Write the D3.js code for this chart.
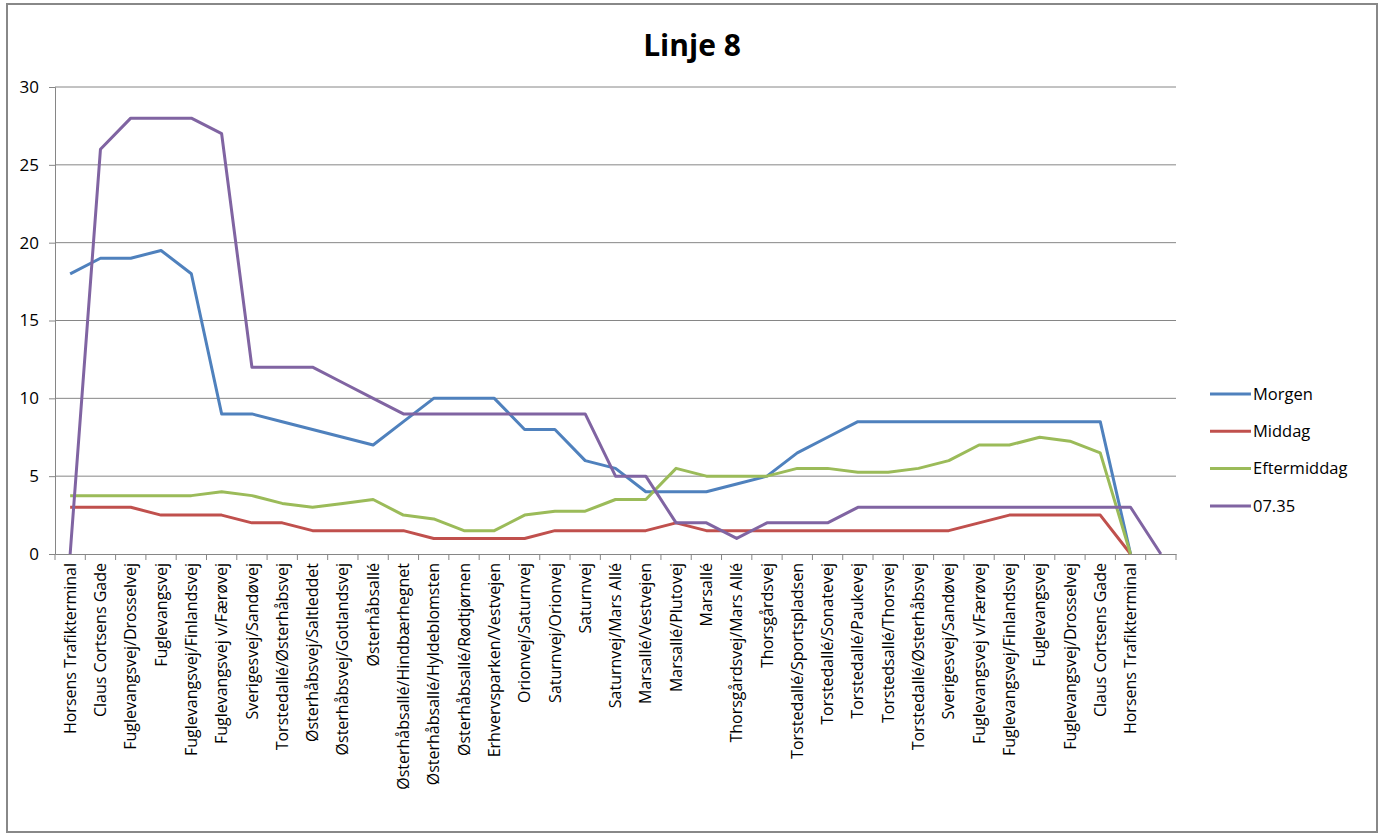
<!DOCTYPE html>
<html>
<head>
<meta charset="utf-8">
<script src="https://cdn.jsdelivr.net/npm/d3@7"></script>
<style>
  html, body { margin: 0; padding: 0; background: #fff; }
  svg { display: block; font-family: "Open Sans", Lato, sans-serif; }
</style>
</head>
<body>
<svg id="chart" width="1386" height="838"></svg>
<script>
const categories = [
  "Horsens Trafikterminal", "Claus Cortsens Gade", "Fuglevangsvej/Drosselvej", "Fuglevangsvej",
  "Fuglevangsvej/Finlandsvej", "Fuglevangsvej v/Færøvej", "Sverigesvej/Sandøvej", "Torstedallé/Østerhåbsvej",
  "Østerhåbsvej/Saltleddet", "Østerhåbsvej/Gotlandsvej", "Østerhåbsallé", "Østerhåbsallé/Hindbærhegnet",
  "Østerhåbsallé/Hyldeblomsten", "Østerhåbsallé/Rødtjørnen", "Erhvervsparken/Vestvejen", "Orionvej/Saturnvej",
  "Saturnvej/Orionvej", "Saturnvej", "Saturnvej/Mars Allé", "Marsallé/Vestvejen",
  "Marsallé/Plutovej", "Marsallé", "Thorsgårdsvej/Mars Allé", "Thorsgårdsvej",
  "Torstedallé/Sportspladsen", "Torstedallé/Sonatevej", "Torstedallé/Paukevej", "Torstedsallé/Thorsvej",
  "Torstedallé/Østerhåbsvej", "Sverigesvej/Sandøvej", "Fuglevangsvej v/Færøvej", "Fuglevangsvej/Finlandsvej",
  "Fuglevangsvej", "Fuglevangsvej/Drosselvej", "Claus Cortsens Gade", "Horsens Trafikterminal", ""
];
const morgen = [18, 19, 19, 19.5, 18, 9, 9, 8.5, 8, 7.5, 7, 8.5, 10, 10, 10, 8, 8, 6, 5.5, 4, 4, 4, 4.5, 5, 6.5, 7.5, 8.5, 8.5, 8.5, 8.5, 8.5, 8.5, 8.5, 8.5, 8.5, 0, null];
const middag = [3, 3, 3, 2.5, 2.5, 2.5, 2, 2, 1.5, 1.5, 1.5, 1.5, 1, 1, 1, 1, 1.5, 1.5, 1.5, 1.5, 2, 1.5, 1.5, 1.5, 1.5, 1.5, 1.5, 1.5, 1.5, 1.5, 2, 2.5, 2.5, 2.5, 2.5, 0, null];
const eftermiddag = [3.75, 3.75, 3.75, 3.75, 3.75, 4, 3.75, 3.25, 3, 3.25, 3.5, 2.5, 2.25, 1.5, 1.5, 2.5, 2.75, 2.75, 3.5, 3.5, 5.5, 5, 5, 5, 5.5, 5.5, 5.25, 5.25, 5.5, 6, 7, 7, 7.5, 7.25, 6.5, 0, null];
const t0735 = [0, 26, 28, 28, 28, 27, 12, 12, 12, 11, 10, 9, 9, 9, 9, 9, 9, 9, 5, 5, 2, 2, 1, 2, 2, 2, 3, 3, 3, 3, 3, 3, 3, 3, 3, 3, 0];
const seriesNames = ["Morgen", "Middag", "Eftermiddag", "07.35"];
const seriesColors = ["#4F81BD", "#C0504D", "#9BBB59", "#8064A2"];
const yTicks = [0, 5, 10, 15, 20, 25, 30];
const title = "Linje 8";

const series = [morgen, middag, eftermiddag, t0735];
const svg = d3.select("#chart");
const FONT = "'Open Sans', Lato, sans-serif";

// outer frame
svg.append("rect").attr("x", 7).attr("y", 4).attr("width", 1370).attr("height", 828)
  .attr("fill", "#fff").attr("stroke", "#888").attr("stroke-width", 2);

const pL = 55, pR = 1176, pT = 87, pB = 554;
const x = d3.scaleBand().domain(d3.range(categories.length)).range([pL, pR]);
const y = d3.scaleLinear().domain([0, 30]).range([pB, pT]);

// gridlines
svg.append("g").selectAll("line").data(yTicks.filter(d => d > 0)).join("line")
  .attr("x1", pL).attr("x2", pR).attr("y1", d => y(d)).attr("y2", d => y(d))
  .attr("stroke", "#868686").attr("stroke-width", 1);

// y axis
const yAxis = svg.append("g").attr("transform", `translate(${pL},0)`)
  .call(d3.axisLeft(y).tickValues(yTicks).tickSize(6).tickPadding(10));
yAxis.select(".domain").attr("stroke", "#868686");
yAxis.selectAll(".tick line").attr("stroke", "#868686");
yAxis.selectAll("text").attr("font-size", 17).attr("fill", "#000").attr("font-family", FONT);

// x axis
const xAxis = svg.append("g").attr("transform", `translate(0,${pB})`)
  .call(d3.axisBottom(x).tickFormat(i => categories[i]).tickSize(0));
xAxis.select(".domain").attr("stroke", "#868686");
xAxis.selectAll(".tick line").remove();
// boundary ticks
svg.append("g").selectAll("line").data(d3.range(categories.length + 1)).join("line")
  .attr("x1", i => pL + i * x.step()).attr("x2", i => pL + i * x.step())
  .attr("y1", pB).attr("y2", pB + 6).attr("stroke", "#868686");
xAxis.selectAll("text")
  .attr("font-size", 16).attr("fill", "#000").attr("font-family", FONT)
  .attr("text-anchor", "end").attr("dy", "0.35em")
  .attr("transform", "translate(0,9) rotate(-90)")
  .attr("x", 0).attr("y", 0);

// lines
const line = d3.line()
  .defined(d => d != null)
  .x((d, i) => x(i) + x.bandwidth() / 2)
  .y(d => y(d));
series.forEach((s, k) => {
  svg.append("path").datum(s).attr("d", line)
    .attr("fill", "none").attr("stroke", seriesColors[k]).attr("stroke-width", 3)
    .attr("stroke-linejoin", "round");
});

// title
svg.append("text").attr("x", 692).attr("y", 56).attr("text-anchor", "middle")
  .attr("font-size", 30).attr("font-weight", "bold").attr("fill", "#000")
  .attr("font-family", FONT).text(title);

// legend
const leg = svg.append("g");
seriesNames.forEach((n, k) => {
  const ly = 394 + k * 37.3;
  leg.append("line").attr("x1", 1210).attr("x2", 1251).attr("y1", ly).attr("y2", ly)
    .attr("stroke", seriesColors[k]).attr("stroke-width", 3);
  leg.append("text").attr("x", 1253).attr("y", ly).attr("dy", "0.35em")
    .attr("font-size", 16.5).attr("fill", "#000").attr("font-family", FONT).text(n);
});
</script>
</body>
</html>
